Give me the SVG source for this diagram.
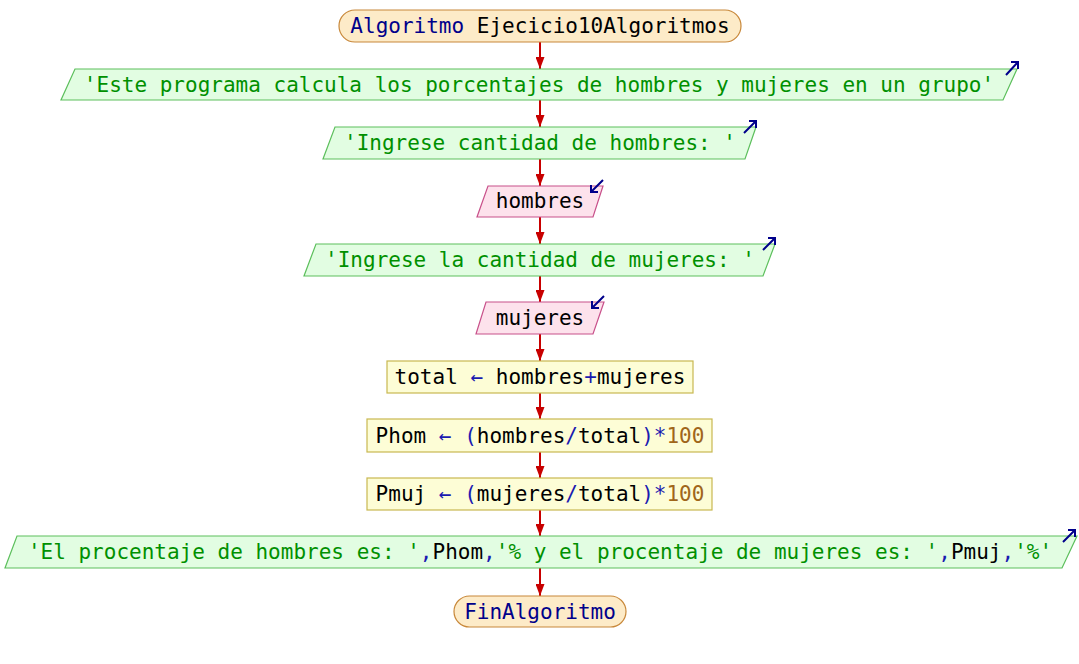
<svg xmlns="http://www.w3.org/2000/svg" width="1079" height="664" viewBox="0 0 1079 664">
  <defs>
    <style>
      text { font-family: "DejaVu Sans Mono", "Liberation Mono", monospace; font-size: 21px; text-anchor: middle; fill: #000; }
      .term { fill: #fdebc8; stroke: #c8883a; stroke-width: 1.2; }
      .out { fill: #e2fde2; stroke: #5cbf5c; stroke-width: 1.2; }
      .in { fill: #fde2ec; stroke: #c8508a; stroke-width: 1.2; }
      .proc { fill: #fdfdd6; stroke: #c8b850; stroke-width: 1.2; }
      .kw { fill: #00008b; }
      .str { fill: #009000; }
      .op { fill: #1a1ab0; }
      .num { fill: #a0661a; }
      .flow { stroke: #c80000; stroke-width: 2; fill: none; marker-end: url(#head); }
      .io { stroke: #00008b; stroke-width: 2; fill: none; }
    </style>
    <marker id="head" markerUnits="userSpaceOnUse" markerWidth="12" markerHeight="9" refX="12" refY="4.5" orient="auto">
      <path d="M0,0 L12,4.5 L0,9 Z" fill="#c80000"/>
    </marker>
  </defs>

  <!-- connectors -->
  <g id="connectors">
    <line class="flow" x1="540" y1="42" x2="540" y2="69"/>
    <line class="flow" x1="540" y1="100" x2="540" y2="127"/>
    <line class="flow" x1="540" y1="159" x2="540" y2="186"/>
    <line class="flow" x1="540" y1="217" x2="540" y2="244"/>
    <line class="flow" x1="540" y1="276" x2="540" y2="302"/>
    <line class="flow" x1="540" y1="334" x2="540" y2="361"/>
    <line class="flow" x1="540" y1="393" x2="540" y2="419"/>
    <line class="flow" x1="540" y1="452" x2="540" y2="478"/>
    <line class="flow" x1="540" y1="510" x2="540" y2="536"/>
    <line class="flow" x1="540" y1="568" x2="540" y2="596"/>
  </g>

  <g id="start">
    <rect class="term" x="339" y="10" width="402" height="32" rx="16"/>
    <text x="540" y="33"><tspan class="kw">Algoritmo</tspan> Ejecicio10Algoritmos</text>
  </g>

  <g id="out1">
    <polygon class="out" points="75,69 1017,69 1003,100 61,100"/>
    <text x="539" y="92" class="str">'Este programa calcula los porcentajes de hombres y mujeres en un grupo'</text>
    <path class="io" d="M1006,75 L1018,62 M1011,62 L1018,62 L1018,69"/>
  </g>

  <g id="out2">
    <polygon class="out" points="335,127 756,127 745,159 323,159"/>
    <text x="540" y="150" class="str">'Ingrese cantidad de hombres: '</text>
    <path class="io" d="M744,133 L756,121 M749,121 L756,121 L756,128"/>
  </g>

  <g id="in1">
    <polygon class="in" points="488,186 603,186 593,217 477,217"/>
    <text x="540" y="208">hombres</text>
    <path class="io" d="M603,180 L591,192 M591,185 L591,192 L598,192"/>
  </g>

  <g id="out3">
    <polygon class="out" points="316,244 775,244 763,276 304,276"/>
    <text x="540" y="267" class="str">'Ingrese la cantidad de mujeres: '</text>
    <path class="io" d="M763,250 L775,238 M768,238 L775,238 L775,245"/>
  </g>

  <g id="in2">
    <polygon class="in" points="486,302 604,302 593,334 476,334"/>
    <text x="540" y="325">mujeres</text>
    <path class="io" d="M604,296 L592,308 M592,301 L592,308 L599,308"/>
  </g>

  <g id="assign1">
    <rect class="proc" x="387" y="361" width="306" height="32"/>
    <text x="540" y="384">total <tspan class="op">←</tspan> hombres<tspan class="op">+</tspan>mujeres</text>
  </g>

  <g id="assign2">
    <rect class="proc" x="367" y="419" width="345" height="33"/>
    <text x="540" y="443">Phom <tspan class="op">←</tspan> <tspan class="op">(</tspan>hombres<tspan class="op">/</tspan>total<tspan class="op">)*</tspan><tspan class="num">100</tspan></text>
  </g>

  <g id="assign3">
    <rect class="proc" x="367" y="478" width="345" height="32"/>
    <text x="540" y="501">Pmuj <tspan class="op">←</tspan> <tspan class="op">(</tspan>mujeres<tspan class="op">/</tspan>total<tspan class="op">)*</tspan><tspan class="num">100</tspan></text>
  </g>

  <g id="out4">
    <polygon class="out" points="17,536 1077,536 1062,568 5,568"/>
    <text x="540" y="559"><tspan class="str">'El procentaje de hombres es: '</tspan><tspan class="op">,</tspan>Phom<tspan class="op">,</tspan><tspan class="str">'% y el procentaje de mujeres es: '</tspan><tspan class="op">,</tspan>Pmuj<tspan class="op">,</tspan><tspan class="str">'%'</tspan></text>
    <path class="io" d="M1063,542 L1075,530 M1068,530 L1075,530 L1075,537"/>
  </g>

  <g id="end">
    <rect class="term" x="454" y="596" width="172" height="31" rx="15.5"/>
    <text x="540" y="619" class="kw">FinAlgoritmo</text>
  </g>
</svg>
